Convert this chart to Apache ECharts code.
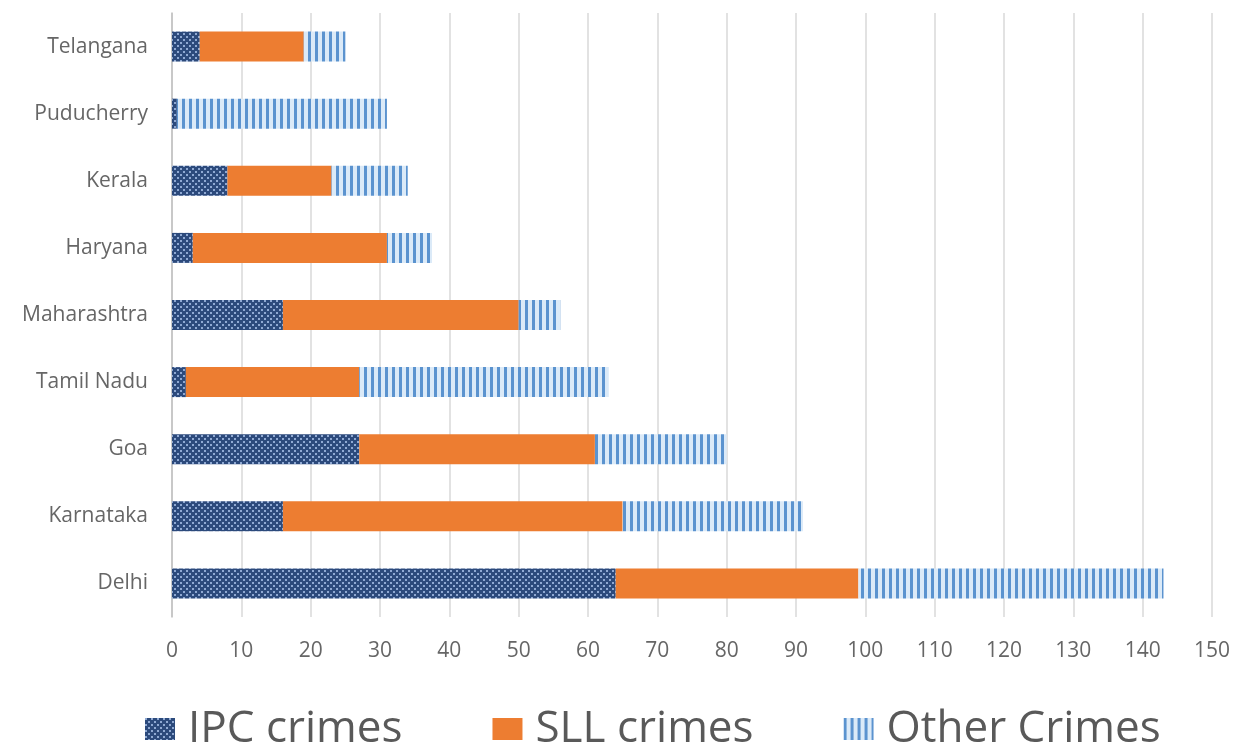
<!DOCTYPE html>
<html><head><meta charset="utf-8">
<script src="https://cdn.jsdelivr.net/npm/echarts@6/dist/echarts.min.js"></script>
<style>html,body{margin:0;padding:0;background:#fff}#c{width:1239px;height:751px}</style>
</head><body><div id="c"></div>
<script>
const categories = ['Delhi','Karnataka','Goa','Tamil Nadu','Maharashtra','Haryana','Kerala','Puducherry','Telangana'];
const ipc   = [64, 16, 27, 2, 16, 3, 8, 0.7, 4];
const sll   = [35, 49, 34, 25, 34, 28, 15, 0, 15];
const other = [44, 26, 19, 36, 6, 6.5, 11, 30.3, 6];
const xTicks = {min: 0, max: 150, interval: 10};

function dotPattern(){
  const c = document.createElement('canvas'); c.width = 6; c.height = 6;
  const g = c.getContext('2d');
  g.fillStyle = '#2c4a7c'; g.fillRect(0,0,6,6);
  g.fillStyle = '#8fa9d3';
  g.fillRect(0,0,2,2); g.fillRect(3,3,2,2);
  return c;
}
function stripePattern(){
  const c = document.createElement('canvas'); c.width = 7; c.height = 6;
  const g = c.getContext('2d');
  g.fillStyle = '#dbeaf8'; g.fillRect(0,0,7,6);
  g.fillStyle = '#5b93cf'; g.fillRect(0,0,3,6);
  return c;
}
const font = '"Open Sans",sans-serif';
const chart = echarts.init(document.getElementById('c'));
const ipcColor = {image: dotPattern(), repeat: 'repeat'};
const otherColor = {image: stripePattern(), repeat: 'repeat'};
chart.setOption({
  animation: false,
  grid: {left: 172, right: 27, top: 13, bottom: 134},
  legend: {
    top: 702, left: 140, itemWidth: 30, itemHeight: 22, itemGap: 90,
    textStyle: {fontSize: 44, color: '#595959', fontFamily: font, padding: [0,0,0,8]},
    icon: 'rect',
    data: ['IPC crimes','SLL crimes','Other Crimes']
  },
  xAxis: {
    type: 'value', min: xTicks.min, max: xTicks.max, interval: xTicks.interval,
    axisLine: {show: false}, axisTick: {show: false},
    splitLine: {lineStyle: {color: '#d9d9d9', width: 1.5}},
    axisLabel: {fontSize: 21, color: '#666666', margin: 24, fontFamily: font}
  },
  yAxis: {
    type: 'category', data: categories,
    axisLine: {lineStyle: {color: '#bfbfbf', width: 1.5}}, axisTick: {show: false},
    axisLabel: {fontSize: 21, color: '#666666', margin: 24, fontFamily: font}
  },
  series: [
    {name: 'IPC crimes', type: 'bar', stack: 's', data: ipc, barWidth: 30, itemStyle: {color: ipcColor}},
    {name: 'SLL crimes', type: 'bar', stack: 's', data: sll, barWidth: 30, itemStyle: {color: '#ed7d31'}},
    {name: 'Other Crimes', type: 'bar', stack: 's', data: other, barWidth: 30, itemStyle: {color: otherColor}}
  ]
});
</script></body></html>
